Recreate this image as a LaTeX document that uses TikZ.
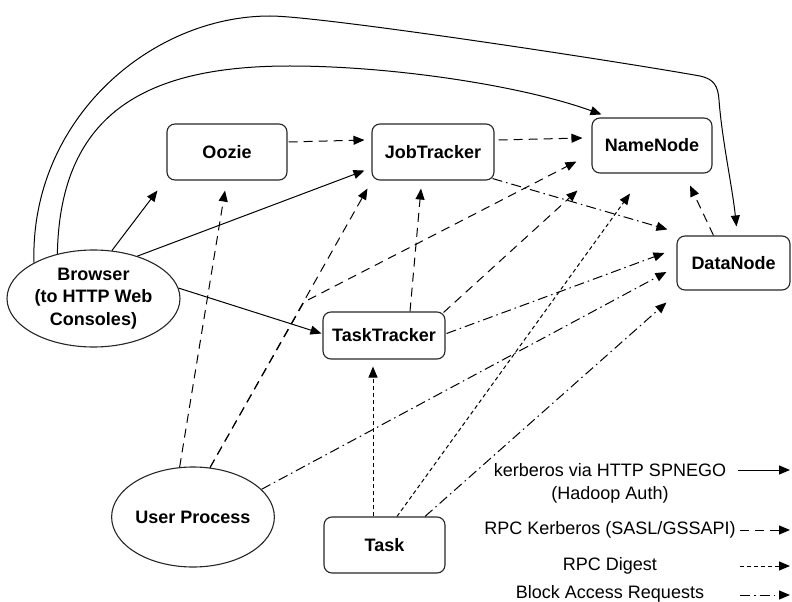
\documentclass[tikz,border=0pt]{standalone}
\usepackage{fontspec}
\setmainfont{Liberation Sans}
\usetikzlibrary{arrows.meta,calc,shapes.geometric}
\begin{document}
\begin{tikzpicture}[x=1bp,y=-1bp,
  txt/.style={font=\fontsize{18bp}{23bp}\selectfont, inner sep=0pt, align=center},
  box/.style={draw=black!85, line width=1.1bp, rounded corners=8bp, inner sep=0pt, align=center,
    font=\bfseries\fontsize{18bp}{22.5bp}\selectfont},
  oval/.style={ellipse, draw=black!85, line width=1.1bp, inner sep=0pt, align=center,
    font=\bfseries\fontsize{18bp}{22.5bp}\selectfont},
  conn/.style={line width=1bp, -{Triangle[length=11bp,width=9bp]}},
  kerb/.style={conn},
  rpck/.style={conn, dash pattern=on 9bp off 6bp},
  rpcd/.style={conn, dash pattern=on 4bp off 3bp},
  blk/.style={conn, dash pattern=on 10bp off 4bp on 1.5bp off 4bp},
]
\useasboundingbox (0,0) rectangle (792,602);

% nodes
\node[box, minimum width=120bp, minimum height=56bp] (oozie) at (227,152) {Oozie};
\node[box, minimum width=122bp, minimum height=56bp] (jt) at (433,152) {JobTracker};
\node[box, minimum width=120bp, minimum height=55bp] (nn) at (652,145.5) {NameNode};
\node[box, minimum width=113bp, minimum height=54bp] (dn) at (733.5,263) {DataNode};
\node[box, minimum width=122bp, minimum height=47bp] (tt) at (384,335.5) {TaskTracker};
\node[box, minimum width=121bp, minimum height=56bp] (task) at (384.5,545) {Task};
\node[oval, minimum width=173bp, minimum height=97bp] (br) at (93.5,298.5) {Browser\\(to HTTP Web\\Consoles)};
\node[oval, minimum width=152bp, minimum height=100bp] (up) at (193,517) {User Process};

% kerberos via HTTP SPNEGO (solid)
\draw[kerb] (br.69) -- ($(oozie.south west)+(-9,10)$);
\draw[kerb] (br.44) -- ($(jt.south west)+(-7,-10)$);
\draw[kerb] (br.7) -- ($(tt.west)+(-1,-2)$);
\draw[kerb] (br.129) .. controls (60,110) and (150,66) .. (290,66)
  .. controls (390,66) and (520,85) .. ($(nn.north west)+(10,-3)$);
\draw[kerb] (br.149) .. controls (30,120) and (150,16) .. (270,16)
  .. controls (320,16) and (610,60) .. (700,76)
  .. controls (714,79) and (718,86) .. (719,100)
  .. controls (722,140) and (732,185) .. ($(dn.north)+(3,-9)$);

% RPC Kerberos (long dashes)
\draw[rpck] ($(oozie.east)+(1,-10)$) -- ($(jt.west)+(-7,-12)$);
\draw[rpck] ($(jt.east)+(4,-12)$) -- ($(nn.west)+(-9,-7.5)$);
\draw[rpck] ($(dn.north)+(-20,0)$) -- ($(nn.south)+(38,12)$);
\draw[rpck] ($(tt.north)+(26,0)$) -- ($(jt.south)+(-12,8)$);
\draw[rpck] ($(tt.north east)+(-2,1)$) -- ($(nn.south west)+(-14,17)$);
\draw[rpck] (up.105) -- ($(oozie.south)+(-2,10)$);
\draw[rpck] (up.71) -- ($(jt.south west)+(-4,8)$);
\coordinate (bend) at (304,302);
\draw[rpck] (up.71) -- (bend) -- ($(nn.west)+(-15,16)$);

% RPC Digest (short dashes)
\draw[rpcd] ($(task.north)+(-11.5,0)$) -- ($(tt.south)+(-11,7)$);
\draw[rpcd] ($(task.north)+(12.5,0)$) -- ($(nn.south)+(-22,20)$);

% Block Access Requests (dash-dot)
\draw[blk] ($(jt.south east)+(-2,-2)$) -- ($(dn.north west)+(-9,-6)$);
\draw[blk] ($(tt.east)+(1,-2)$) -- ($(dn.west)+(-12,-10)$);
\draw[blk] (up.22) -- ($(dn.west)+(-10,9)$);
\draw[blk] ($(task.north)+(40.5,0)$) -- ($(dn.south west)+(-10,12)$);

% legend
\node[txt] (l1) at (610,483) {kerberos via HTTP SPNEGO\\(Hadoop Auth)};
\node[txt] (l2) at (610,530) {RPC Kerberos (SASL/GSSAPI)};
\node[txt] (l3) at (610,566) {RPC Digest};
\node[txt] (l4) at (610,594) {Block Access Requests};
\coordinate (k1a) at (738,470); \coordinate (k1b) at (790,470);
\coordinate (k2a) at (740,530); \coordinate (k2b) at (790,530);
\coordinate (k3a) at (740,566); \coordinate (k3b) at (790,566);
\coordinate (k4a) at (740,595); \coordinate (k4b) at (790,595);
\draw[kerb] (k1a) -- (k1b);
\draw[rpck] (k2a) -- (k2b);
\draw[rpcd] (k3a) -- (k3b);
\draw[blk] (k4a) -- (k4b);
\end{tikzpicture}
\end{document}
